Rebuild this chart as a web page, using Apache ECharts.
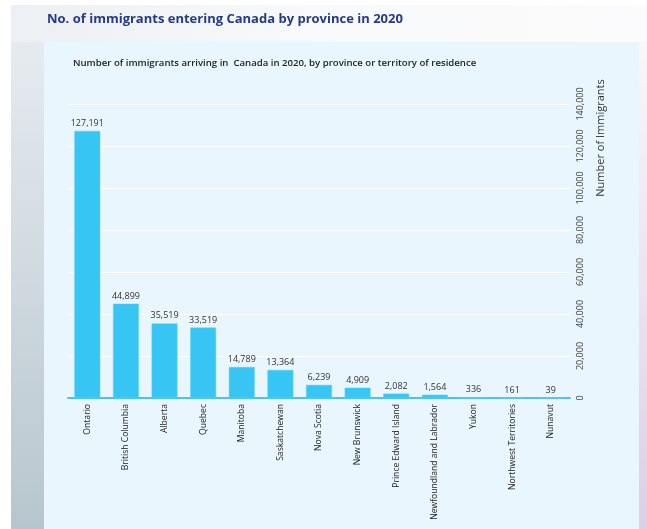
<!DOCTYPE html>
<html>
<head>
<meta charset="utf-8">
<script src="https://cdn.jsdelivr.net/npm/echarts@6/dist/echarts.min.js"></script>
<style>
  html, body { margin: 0; padding: 0; background: #ffffff; }
  #chart { width: 647px; height: 529px; }
</style>
</head>
<body>
<div id="chart"></div>
<script>
// Immigrants arriving in Canada in 2020, by province or territory of residence
const provinces = [
  'Ontario', 'British Columbia', 'Alberta', 'Quebec', 'Manitoba', 'Saskatchewan',
  'Nova Scotia', 'New Brunswick', 'Prince Edward Island', 'Newfoundland and Labrador',
  'Yukon', 'Northwest Territories', 'Nunavut'
];
const immigrants = [127191, 44899, 35519, 33519, 14789, 13364, 6239, 4909, 2082, 1564, 336, 161, 39];
const yTicks = [0, 20000, 40000, 60000, 80000, 100000, 120000, 140000];

const titleText = 'No. of immigrants entering Canada by province in 2020';
const subtitleText = 'Number of immigrants arriving in  Canada in 2020, by province or territory of residence';
const yAxisTitle = 'Number of Immigrants';

const fmt = v => v.toLocaleString('en-US');
const FONT = '"Open Sans", "Noto Sans", sans-serif';

const chart = echarts.init(document.getElementById('chart'), null, { renderer: 'canvas' });

chart.setOption({
  backgroundColor: '#ffffff',
  animation: false,
  graphic: [
    // card backdrop strips
    { type: 'rect', z: -10, shape: { x: 11, y: 5, width: 636, height: 37 },
      style: { fill: new echarts.graphic.LinearGradient(0, 0, 1, 0, [
        { offset: 0, color: '#eceff3' }, { offset: 0.5, color: '#f9fafb' }, { offset: 1, color: '#fbfafc' }]) } },
    { type: 'rect', z: -10, shape: { x: 11, y: 42, width: 33, height: 487 },
      style: { fill: new echarts.graphic.LinearGradient(0, 0, 0, 1, [
        { offset: 0, color: '#e6ebef' }, { offset: 1, color: '#b7c6ce' }]) } },
    { type: 'rect', z: -10, shape: { x: 639, y: 42, width: 8, height: 487 },
      style: { fill: new echarts.graphic.LinearGradient(0, 0, 0, 1, [
        { offset: 0, color: '#f8f7fa' }, { offset: 1, color: '#dccfe6' }]) } },
    // chart panel
    { type: 'rect', z: -9, shape: { x: 44, y: 42, width: 595, height: 487 },
      style: { fill: '#eaf6fe' } },
    { type: 'text', left: 47, top: 13,
      style: { text: titleText, fill: '#253a8c', font: 'bold 13px ' + FONT } },
    { type: 'text', left: 73, top: 58,
      style: { text: subtitleText, fill: '#222222', font: '600 9.6px ' + FONT } },
    { type: 'text', x: 601, y: 138, rotation: Math.PI / 2,
      style: { text: yAxisTitle, fill: '#333333', font: '11px ' + FONT,
               textAlign: 'center', textVerticalAlign: 'middle' } }
  ],
  grid: { left: 68, right: 77, top: 104, bottom: 131, containLabel: false },
  xAxis: {
    type: 'category',
    data: provinces,
    axisLine: { show: true, lineStyle: { color: '#4cc3ee', width: 2 } },
    axisTick: { show: false },
    axisLabel: {
      rotate: 90, interval: 0, margin: 6,
      color: '#222222', fontSize: 8.6, fontFamily: FONT
    }
  },
  yAxis: {
    type: 'value',
    position: 'right',
    min: 0, max: 140000, interval: 20000,
    axisLine: { show: false },
    axisTick: { show: false },
    splitLine: { show: true, lineStyle: { color: '#ffffff', width: 1 } },
    axisLabel: {
      rotate: 90, margin: 6, color: '#444444', fontSize: 9, fontFamily: FONT,
      formatter: v => (yTicks.includes(v) ? fmt(v) : '')
    }
  },
  series: [{
    type: 'bar',
    data: immigrants,
    barCategoryGap: '33%',
    itemStyle: { color: '#37c6f4', borderColor: '#5fd2f7', borderWidth: 0.5 },
    label: {
      show: true, position: 'top', distance: 3,
      color: '#333333', fontSize: 9, fontFamily: FONT,
      formatter: p => fmt(p.value)
    }
  }]
});
</script>
</body>
</html>
